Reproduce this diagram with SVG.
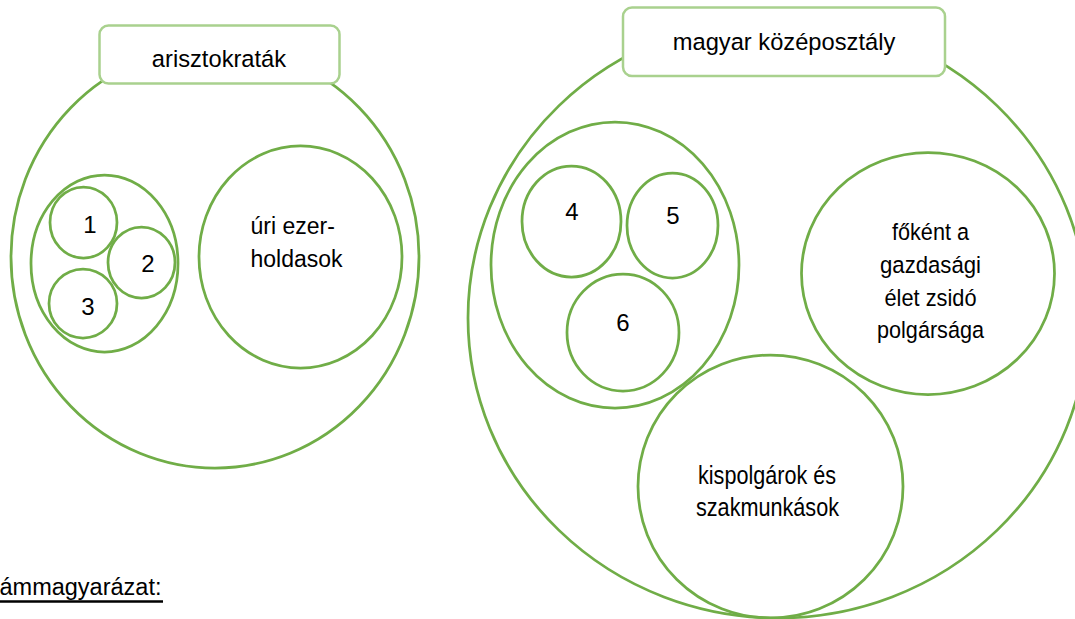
<svg xmlns="http://www.w3.org/2000/svg" width="1075" height="619" viewBox="0 0 1075 619">
<style>
.c{fill:none;stroke:#70ad47;stroke-width:2.75}
.b{fill:#ffffff;stroke:#a9d18e;stroke-width:2.5}
.t{font-family:"Liberation Sans",Arial,sans-serif;fill:#000000}
.m{text-anchor:middle}
</style>
<rect width="1075" height="619" fill="#ffffff"/>
<g id="arisztokratak">
  <ellipse class="c" cx="215" cy="257" rx="204" ry="211"/>
  <rect class="b" x="99.5" y="25.5" width="240" height="58" rx="9"/>
  <text class="t m" x="219" y="67" font-size="23.7">arisztokraták</text>
</g>
<g id="group123">
  <ellipse class="c" cx="104.5" cy="263.5" rx="73.5" ry="88.5"/>
</g>
<g id="n1">
  <ellipse class="c" cx="83.5" cy="222.5" rx="33.5" ry="35.5"/>
  <text class="t m" x="90" y="233" font-size="24">1</text>
</g>
<g id="n2">
  <ellipse class="c" cx="141.5" cy="262.5" rx="33.5" ry="35.5"/>
  <text class="t m" x="148" y="272" font-size="24">2</text>
</g>
<g id="n3">
  <ellipse class="c" cx="83" cy="303.5" rx="34" ry="34.5"/>
  <text class="t m" x="88" y="315" font-size="24">3</text>
</g>
<g id="uri">
  <ellipse class="c" cx="300.5" cy="257" rx="101.5" ry="111"/>
  <text class="t" x="250.5" y="234" font-size="23">úri ezer-</text>
  <text class="t" x="250.5" y="267" font-size="23">holdasok</text>
</g>
<g id="kozeposztaly">
  <ellipse class="c" cx="778" cy="318" rx="310" ry="300"/>
  <rect class="b" x="623" y="7.5" width="322" height="68.5" rx="9"/>
  <text class="t m" x="784" y="50" font-size="23.7">magyar középosztály</text>
</g>
<g id="group456">
  <ellipse class="c" cx="615" cy="265" rx="124" ry="143"/>
</g>
<g id="n4">
  <ellipse class="c" cx="571.5" cy="221.5" rx="49.5" ry="55.5"/>
  <text class="t m" x="572" y="220" font-size="24">4</text>
</g>
<g id="n5">
  <ellipse class="c" cx="672.5" cy="225.5" rx="45.5" ry="52.5"/>
  <text class="t m" x="673" y="224" font-size="24">5</text>
</g>
<g id="n6">
  <ellipse class="c" cx="623" cy="332.5" rx="56" ry="58.5"/>
  <text class="t m" x="623" y="330.5" font-size="24">6</text>
</g>
<g id="zsido">
  <ellipse class="c" cx="928" cy="273.5" rx="126.5" ry="121"/>
  <text class="t m" x="930.5" y="240" font-size="24.5" textLength="77" lengthAdjust="spacingAndGlyphs">főként a</text>
  <text class="t m" x="930.5" y="273" font-size="24.5" textLength="101" lengthAdjust="spacingAndGlyphs">gazdasági</text>
  <text class="t m" x="930.5" y="306" font-size="24.5" textLength="92" lengthAdjust="spacingAndGlyphs">élet zsidó</text>
  <text class="t m" x="930.5" y="338" font-size="24.5" textLength="107" lengthAdjust="spacingAndGlyphs">polgársága</text>
</g>
<g id="kispolgarok">
  <ellipse class="c" cx="770.5" cy="486.5" rx="132.5" ry="131.5"/>
  <text class="t m" x="767" y="484" font-size="25" textLength="138" lengthAdjust="spacingAndGlyphs">kispolgárok és</text>
  <text class="t m" x="767.5" y="516" font-size="25" textLength="143" lengthAdjust="spacingAndGlyphs">szakmunkások</text>
</g>
<g id="legend">
  <text class="t" x="-0.5" y="595" font-size="23.5">ámmagyarázat:</text>
  <line x1="0" y1="601.5" x2="163" y2="601.5" stroke="#000000" stroke-width="2.5"/>
</g>
</svg>
